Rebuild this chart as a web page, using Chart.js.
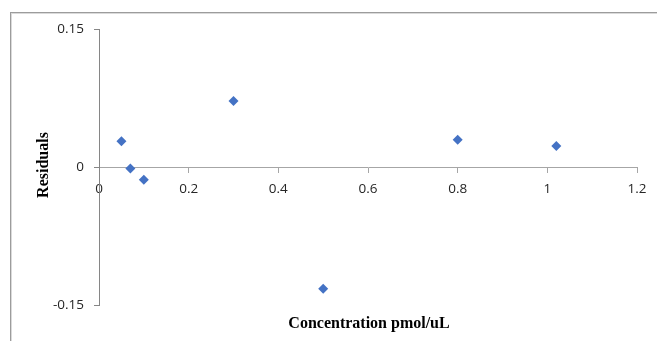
<!DOCTYPE html>
<html>
<head>
<meta charset="utf-8">
<script src="https://cdn.jsdelivr.net/npm/chart.js@4.4.1/dist/chart.umd.min.js"></script>
<style>
  body { margin: 0; background: #fff; }
  #wrap { position: relative; width: 657px; height: 341px; overflow: hidden; }
  #frame {
    position: absolute; left: 10px; top: 12px; width: 700px; height: 400px;
    border-top: 1px solid #9c9c9c; border-left: 1px solid #9c9c9c;
    box-shadow: inset 1px 1px 0 #dadada;
  }
  #residuals { position: absolute; left: 0; top: 0; }
</style>
</head>
<body>
<div id="wrap">
  <div id="frame"></div>
  <canvas id="residuals" width="657" height="341"></canvas>
</div>
<script>
// residuals of the calibration fit
const concentration = [0.05, 0.07, 0.10, 0.30, 0.50, 0.80, 1.02];
const residual = [0.028, -0.0015, -0.0138, 0.0717, -0.1323, 0.0297, 0.0228];

const xTicks = [0, 0.2, 0.4, 0.6, 0.8, 1, 1.2];
const yTicks = [-0.15, 0, 0.15];

const xTitle = 'Concentration pmol/uL';
const yTitle = 'Residuals';

const tickFont = { family: 'Open Sans', size: 13.5 };

// axis titles sit outside the chart layout, so paint them directly
const axisTitles = {
  id: 'axisTitles',
  afterDraw(chart) {
    const ctx = chart.ctx;
    ctx.save();
    ctx.fillStyle = '#000';
    ctx.font = 'bold 16px "Liberation Serif"';
    ctx.textAlign = 'center';
    ctx.textBaseline = 'alphabetic';
    ctx.fillText(xTitle, 369, 328);
    ctx.translate(48, 165);
    ctx.rotate(-Math.PI / 2);
    ctx.fillText(yTitle, 0, 0);
    ctx.restore();
  }
};

const data = concentration.map((c, i) => ({ x: c, y: residual[i] }));

new Chart(document.getElementById('residuals'), {
  type: 'scatter',
  data: {
    datasets: [{
      data: data,
      pointStyle: 'rectRot',
      pointRadius: 5,
      pointHoverRadius: 5,
      backgroundColor: '#4472C4',
      borderColor: '#4472C4',
      borderWidth: 0
    }]
  },
  options: {
    responsive: false,
    animation: false,
    layout: { padding: { left: 0, top: 29, right: 20, bottom: 36 } },
    plugins: { legend: { display: false }, tooltip: { enabled: false } },
    scales: {
      x: {
        type: 'linear',
        position: { y: 0 },
        min: 0,
        max: 1.2,
        afterBuildTicks: scale => { scale.ticks = xTicks.map(v => ({ value: v })); },
        ticks: {
          font: tickFont,
          color: '#262626',
          padding: 9,
          maxRotation: 0,
          callback: v => String(v)
        },
        grid: { drawOnChartArea: false, drawTicks: true, tickLength: 5, color: '#a6a6a6' },
        border: { color: '#a6a6a6', width: 1 }
      },
      y: {
        type: 'linear',
        position: 'left',
        min: -0.15,
        max: 0.15,
        afterBuildTicks: scale => { scale.ticks = yTicks.map(v => ({ value: v })); },
        afterFit: scale => { scale.width = 99; },
        ticks: {
          font: tickFont,
          color: '#262626',
          padding: 10,
          callback: v => String(v)
        },
        grid: { drawOnChartArea: false, drawTicks: true, tickLength: 5, color: '#868686' },
        border: { color: '#868686', width: 1 }
      }
    }
  },
  plugins: [axisTitles]
});
</script>
</body>
</html>
